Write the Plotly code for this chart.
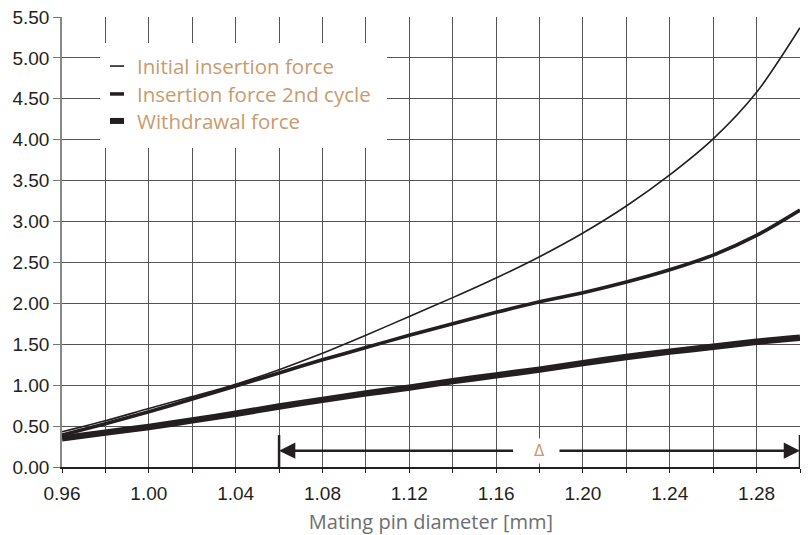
import plotly.graph_objects as go

# Kraftwerte
diameter = [0.96, 0.98, 1.00, 1.02, 1.04, 1.06, 1.08, 1.10, 1.12,
            1.14, 1.16, 1.18, 1.20, 1.22, 1.24, 1.26, 1.28, 1.30]
initial_force = [0.43, 0.565, 0.715, 0.86, 1.01, 1.19, 1.39, 1.61, 1.84,
                 2.07, 2.31, 2.57, 2.86, 3.19, 3.57, 4.01, 4.58, 5.37]
second_force = [0.39, 0.53, 0.675, 0.83, 0.99, 1.15, 1.31, 1.46, 1.61,
                1.75, 1.89, 2.02, 2.13, 2.26, 2.41, 2.59, 2.83, 3.14]
withdrawal_force = [0.35, 0.42, 0.49, 0.57, 0.65, 0.74, 0.82, 0.90, 0.97,
                    1.05, 1.12, 1.19, 1.27, 1.345, 1.41, 1.47, 1.53, 1.58]

series_names = ["Initial insertion force", "Insertion force 2nd cycle", "Withdrawal force"]
series_widths = [1.6, 3.6, 6.5]

delta_from = 1.06
delta_to = 1.30
delta_mid = 1.18
delta_level = 0.2

INK = "#231f20"
TAN = "#c89b6d"

fig = go.Figure()
for name, ys, w in zip(series_names, [initial_force, second_force, withdrawal_force], series_widths):
    fig.add_trace(go.Scatter(x=diameter, y=ys, name=name, mode="lines",
                             line=dict(color=INK, width=w, shape="spline", smoothing=0.8),
                             showlegend=False))

# Maßpfeil mit Delta
fig.add_annotation(x=delta_from, y=delta_level, ax=delta_mid - 0.0115, ay=delta_level,
                   xref="x", yref="y", axref="x", ayref="y", text="",
                   showarrow=True, arrowhead=2, arrowsize=1.3, arrowwidth=2.5,
                   arrowcolor=INK, standoff=0, startstandoff=0)
fig.add_annotation(x=delta_to, y=delta_level, ax=delta_mid + 0.0085, ay=delta_level,
                   xref="x", yref="y", axref="x", ayref="y", text="",
                   showarrow=True, arrowhead=2, arrowsize=1.3, arrowwidth=2.5,
                   arrowcolor=INK, standoff=0, startstandoff=0)
fig.add_annotation(x=delta_mid, y=delta_level, xref="x", yref="y", text="Δ",
                   showarrow=False, bgcolor="white", borderpad=3,
                   font=dict(family="DejaVu Sans", size=15, color=TAN))
for xb in [delta_from, delta_to]:
    fig.add_shape(type="line", x0=xb, x1=xb, y0=0, y1=0.39, xref="x", yref="y",
                  line=dict(color=INK, width=2.5))

# Legende von Hand (kurze Linienmuster)
fig.add_shape(type="rect", xref="paper", yref="paper", x0=0.0515, x1=0.4404,
              y0=0.709, y1=0.942, fillcolor="white", line=dict(width=0), layer="above")
legend_rows = [0.891, 0.829, 0.769]
for name, w, yr in zip(series_names, [1.6, 3.5, 6], legend_rows):
    fig.add_shape(type="line", xref="paper", yref="paper", x0=0.065, x1=0.084,
                  y0=yr, y1=yr, line=dict(color=INK, width=w), layer="above")
    fig.add_annotation(x=0.0989, y=yr, xref="paper", yref="paper", text=name,
                       showarrow=False, xanchor="left", yanchor="middle",
                       font=dict(family="Open Sans", size=20.5, color=TAN))

fig.update_layout(
    width=811, height=535,
    margin=dict(l=62, r=11, t=17, b=68),
    plot_bgcolor="white", paper_bgcolor="white",
    font=dict(family="Liberation Sans", size=19, color=INK),
)
fig.update_xaxes(range=[0.96, 1.30], tick0=0.96, dtick=0.04, tickformat=".2f",
                 showgrid=True, gridcolor="#555", gridwidth=1,
                 ticks="outside", ticklen=4, tickcolor=INK, ticklabelstandoff=4,
                 minor=dict(dtick=0.02, tick0=0.96, showgrid=True, gridcolor="#555",
                            ticks="outside", ticklen=4, tickcolor=INK),
                 showline=True, linecolor=INK, linewidth=1.5, mirror=False,
                 zeroline=False, automargin=False,
                 title=dict(text="Mating pin diameter [mm]", standoff=13,
                            font=dict(family="Open Sans", size=20, color="#6d6e71")))
fig.update_yaxes(range=[0, 5.5], dtick=0.5, tickformat=".2f",
                 showgrid=True, gridcolor="#555", gridwidth=1,
                 ticks="outside", ticklen=7, tickcolor="#777",
                 ticklabeloverflow="allow", automargin=False,
                 showline=True, linecolor="#888", linewidth=1.5,
                 zeroline=False)

# Standardrand der Seite entfernen, keine Werkzeugleiste
fig.write_html("out.html", config={"displayModeBar": False},
               post_script="document.body.style.margin='0';")
